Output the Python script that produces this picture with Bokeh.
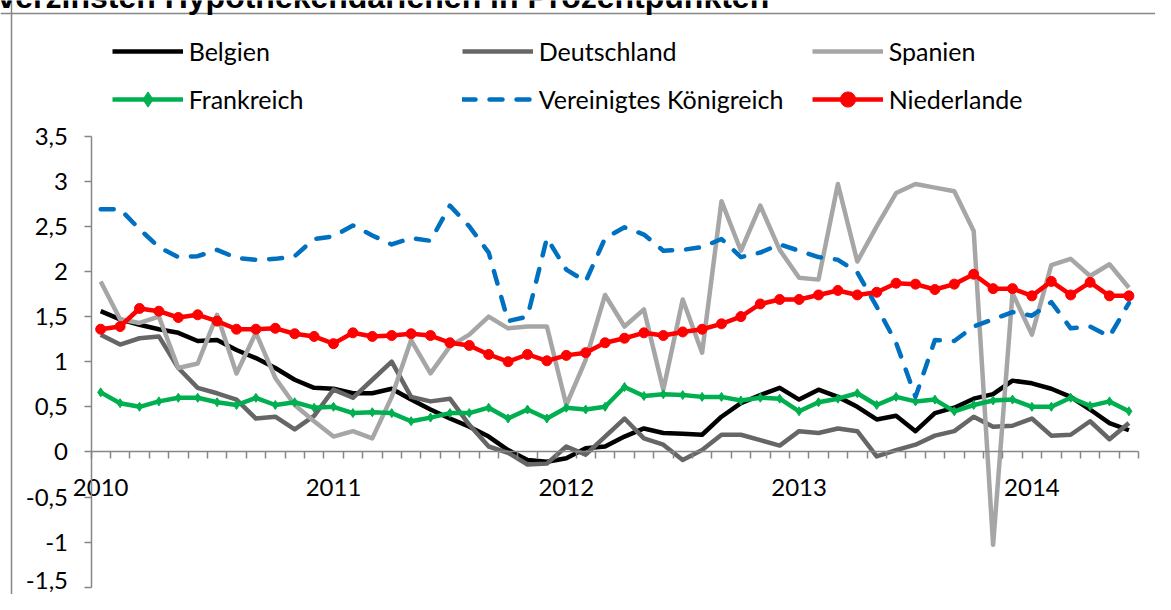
import numpy as np
from bokeh.plotting import figure
from bokeh.models import Range1d, FixedTicker, Legend, LegendItem, Span, Label
from bokeh.embed import file_html
from bokeh.resources import INLINE

# ---------------- data ----------------
title_text = "verzinsten Hypothekendarlehen in Prozentpunkten"
year_labels = ["2010", "2011", "2012", "2013", "2014"]
y_ticks = [-1.5, -1.0, -0.5, 0.0, 0.5, 1.0, 1.5, 2.0, 2.5, 3.0, 3.5]
y_tick_labels = ["-1,5", "-1", "-0,5", "0", "0,5", "1", "1,5", "2", "2,5", "3", "3,5"]

series_names = ["Belgien", "Deutschland", "Spanien", "Frankreich",
                "Vereinigtes Königreich", "Niederlande"]

belgien = [1.56, 1.47, 1.41, 1.36, 1.32, 1.23, 1.24, 1.13, 1.04, 0.93,
           0.80, 0.71, 0.70, 0.65, 0.65, 0.70, 0.58, 0.47, 0.37, 0.28,
           0.17, 0.02, -0.09, -0.11, -0.07, 0.04, 0.06, 0.17, 0.26, 0.21,
           0.20, 0.19, 0.39, 0.54, 0.63, 0.71, 0.58, 0.69, 0.61, 0.50,
           0.36, 0.40, 0.23, 0.43, 0.49, 0.59, 0.64, 0.79, 0.76, 0.70,
           0.61, 0.47, 0.32, 0.24]

deutschland = [1.30, 1.19, 1.26, 1.28, 0.93, 0.71, 0.65, 0.58, 0.37, 0.39,
               0.25, 0.40, 0.69, 0.60, 0.80, 1.00, 0.61, 0.56, 0.59, 0.30,
               0.06, -0.01, -0.14, -0.13, 0.06, -0.03, 0.17, 0.37, 0.15, 0.08,
               -0.09, 0.02, 0.19, 0.19, 0.13, 0.07, 0.23, 0.21, 0.26, 0.23,
               -0.05, 0.02, 0.08, 0.18, 0.23, 0.39, 0.28, 0.29, 0.37, 0.18,
               0.19, 0.34, 0.14, 0.32]

spanien = [1.89, 1.47, 1.43, 1.50, 0.93, 0.98, 1.52, 0.87, 1.32, 0.82,
           0.52, 0.34, 0.17, 0.23, 0.15, 0.61, 1.24, 0.87, 1.17, 1.30,
           1.50, 1.37, 1.39, 1.39, 0.52, 1.02, 1.74, 1.39, 1.58, 0.69,
           1.69, 1.10, 2.78, 2.23, 2.73, 2.24, 1.93, 1.91, 2.97, 2.11,
           2.50, 2.87, 2.97, 2.93, 2.89, 2.45, -1.03, 1.76, 1.30, 2.07,
           2.14, 1.95, 2.08, 1.82]

frankreich = [0.66, 0.54, 0.50, 0.56, 0.60, 0.60, 0.55, 0.52, 0.60, 0.52,
              0.55, 0.49, 0.50, 0.43, 0.44, 0.43, 0.34, 0.38, 0.43, 0.43,
              0.49, 0.37, 0.47, 0.37, 0.49, 0.47, 0.50, 0.72, 0.62, 0.64,
              0.63, 0.61, 0.61, 0.57, 0.60, 0.59, 0.45, 0.55, 0.59, 0.65,
              0.52, 0.61, 0.56, 0.58, 0.45, 0.52, 0.57, 0.58, 0.50, 0.50,
              0.60, 0.51, 0.56, 0.45]

vereinigtes_koenigreich = [2.69, 2.69, 2.47, 2.27, 2.16, 2.17, 2.24, 2.15, 2.13, 2.14,
                           2.17, 2.36, 2.39, 2.51, 2.40, 2.30, 2.37, 2.34, 2.73, 2.50,
                           2.21, 1.45, 1.50, 2.37, 2.02, 1.89, 2.37, 2.49, 2.41, 2.23,
                           2.24, 2.27, 2.36, 2.16, 2.21, 2.30, 2.23, 2.16, 2.13, 1.99,
                           1.61, 1.21, 0.61, 1.24, 1.23, 1.39, 1.47, 1.55, 1.51, 1.66,
                           1.37, 1.39, 1.28, 1.65]

niederlande = [1.36, 1.39, 1.59, 1.56, 1.49, 1.52, 1.45, 1.36, 1.36, 1.37,
               1.31, 1.28, 1.20, 1.32, 1.28, 1.29, 1.31, 1.29, 1.21, 1.18,
               1.08, 1.00, 1.08, 1.01, 1.07, 1.10, 1.21, 1.26, 1.32, 1.29,
               1.33, 1.36, 1.42, 1.50, 1.64, 1.69, 1.69, 1.74, 1.79, 1.74,
               1.77, 1.87, 1.86, 1.80, 1.86, 1.97, 1.81, 1.81, 1.73, 1.89,
               1.74, 1.88, 1.73, 1.73]

# ---------------- layout (pixels) ----------------
W, H = 1155, 594
PX_MONTH = 19.40          # px per month
PX_UNIT = 90.2            # px per percentage point
AXIS_X_PX = 90.5          # x of the value axis
TOP_PX = 135.7            # y of the 3.5 tick

n = len(belgien)
x = np.arange(n)

x0 = -0.5 - AXIS_X_PX / PX_MONTH
x1 = x0 + W / PX_MONTH
y1 = y_ticks[-1] + TOP_PX / PX_UNIT
y0 = y1 - H / PX_UNIT

FONT = "Lato"
AXIS_COLOR = "#868686"

p = figure(width=W, height=H, x_range=Range1d(x0, x1), y_range=Range1d(y0, y1),
           output_backend="svg", toolbar_location=None,
           min_border=0, min_border_left=0, min_border_right=0,
           min_border_top=0, min_border_bottom=0,
           outline_line_color=None, background_fill_color="white",
           border_fill_color="white")
p.xgrid.visible = False
p.ygrid.visible = False

# x axis through zero
ax = p.xaxis[0]
ax.fixed_location = 0
year_ticks = [12.0 * k for k in range(len(year_labels))]
ax.ticker = FixedTicker(ticks=year_ticks, minor_ticks=[i - 0.5 for i in range(n + 1)])
ax.major_label_overrides = dict(zip(year_ticks, year_labels))
ax.bounds = (-0.5, n - 0.5)
ax.major_tick_out = 0
ax.major_tick_in = 0
ax.minor_tick_out = 7
ax.minor_tick_in = 0
ax.axis_line_color = AXIS_COLOR
ax.axis_line_width = 1.5
ax.minor_tick_line_color = AXIS_COLOR
ax.minor_tick_line_width = 1.5
ax.major_label_text_font = FONT
ax.major_label_text_font_size = "24px"
ax.major_label_text_color = "black"
ax.major_label_standoff = 20

# value axis; the lowest label is drawn separately so it stays inside the canvas
ay = p.yaxis[0]
ay.fixed_location = -0.5
ay.ticker = FixedTicker(ticks=y_ticks, minor_ticks=[])
overrides = dict(zip(y_ticks, y_tick_labels))
overrides[y_ticks[0]] = ""
ay.major_label_overrides = overrides
ay.bounds = (y_ticks[0], y_ticks[-1])
ay.major_tick_out = 7
ay.major_tick_in = 0
ay.minor_tick_out = 0
ay.minor_tick_in = 0
ay.axis_line_color = AXIS_COLOR
ay.axis_line_width = 1.5
ay.major_tick_line_color = AXIS_COLOR
ay.major_tick_line_width = 1.5
ay.major_label_text_font = FONT
ay.major_label_text_font_size = "24px"
ay.major_label_text_color = "black"
ay.major_label_standoff = 16

p.add_layout(Label(x=-0.5 - 23 / PX_MONTH, y=y1 - 580 / PX_UNIT, text=y_tick_labels[0],
                   text_font=FONT, text_font_size="24px", text_color="black",
                   text_align="right", text_baseline="middle"))

# chart border (left and top edges visible)
p.add_layout(Span(location=x0 + 11 / PX_MONTH, dimension="height",
                  line_color=AXIS_COLOR, line_width=1.5))
p.add_layout(Span(location=y1 - 13 / PX_UNIT, dimension="width",
                  line_color=AXIS_COLOR, line_width=1.5))

# clipped title at the very top
p.add_layout(Label(x=x0 - 3 / PX_MONTH, y=y1 + 4 / PX_UNIT, text=title_text,
                   text_font="Liberation Sans", text_font_style="bold",
                   text_font_size="32px", text_color="black",
                   text_baseline="alphabetic", text_align="left"))

LW = 4.5
r_be = p.line(x, belgien, line_color="#000000", line_width=LW, line_join="round")
r_de = p.line(x, deutschland, line_color="#666666", line_width=LW, line_join="round")
r_es = p.line(x, spanien, line_color="#a6a6a6", line_width=LW, line_join="round")
r_fr = p.line(x, frankreich, line_color="#00b050", line_width=LW, line_join="round")
r_fr_m = p.scatter(x, frankreich, marker="diamond", size=9,
                   fill_color="#00b050", line_color="#00b050")
r_uk = p.line(x, vereinigtes_koenigreich, line_color="#0070c0", line_width=LW,
              line_dash="13 14", line_cap="round", line_join="round")
r_nl = p.line(x, niederlande, line_color="#ff0000", line_width=LW, line_join="round")
r_nl_m = p.scatter(x, niederlande, marker="circle", size=10,
                   fill_color="#ff0000", line_color="#ff0000")

items = [
    LegendItem(label=series_names[0], renderers=[r_be]),
    LegendItem(label=series_names[1], renderers=[r_de]),
    LegendItem(label=series_names[2], renderers=[r_es]),
    LegendItem(label=series_names[3], renderers=[r_fr, r_fr_m]),
    LegendItem(label=series_names[4], renderers=[r_uk]),
    LegendItem(label=series_names[5], renderers=[r_nl, r_nl_m]),
]
GH = 38
SP = 10
LEG_TOP = 50.7 - GH / 2
legend = Legend(items=items, orientation="horizontal", ncols=3,
                location=(111.7, H - LEG_TOP - 2 * GH - SP),
                glyph_width=71, glyph_height=GH, label_height=GH, label_width=263,
                label_standoff=6, spacing=SP, padding=0, margin=0,
                border_line_color=None, background_fill_alpha=0,
                label_text_font=FONT, label_text_font_size="25px",
                label_text_color="black")
p.add_layout(legend)

open("out.html", "w").write(file_html(p, INLINE))
